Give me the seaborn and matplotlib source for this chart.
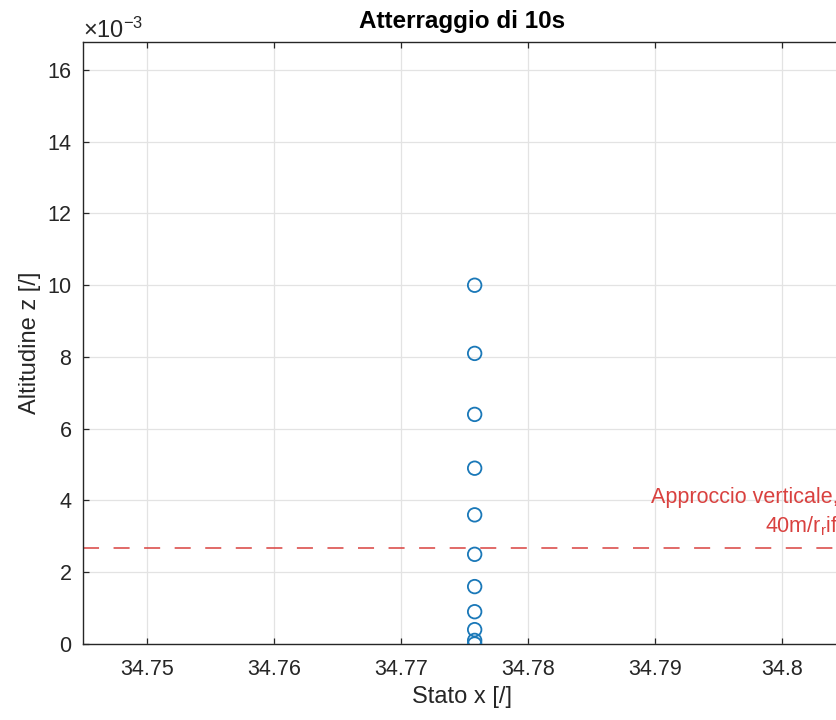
import numpy as np
import pandas as pd
import matplotlib
matplotlib.use("Agg")
import matplotlib.pyplot as plt
import matplotlib.ticker as mticker
import matplotlib.transforms as mtransforms
import seaborn as sns

# ---- data ----
x_state = [34.7758] * 11
z_alt = [10.0e-3, 8.1e-3, 6.4e-3, 4.9e-3, 3.6e-3, 2.5e-3, 1.6e-3, 0.9e-3, 0.4e-3, 0.1e-3, 0.0]
threshold = 40 / 15000
x_ticks = [34.75, 34.76, 34.77, 34.78, 34.79, 34.80]
x_tick_labels = ["34.75", "34.76", "34.77", "34.78", "34.79", "34.8"]
y_ticks = [0, 2e-3, 4e-3, 6e-3, 8e-3, 10e-3, 12e-3, 14e-3, 16e-3]
title = "Atterraggio di 10s"
xlabel = "Stato x [/]"
ylabel = "Altitudine z [/]"
line_label = "Approccio verticale,\n40m/r$_\\mathrm{r}$if"

df = pd.DataFrame({"x": x_state, "z": z_alt})

sns.set_theme(style="whitegrid")
plt.rcParams["font.family"] = ["Liberation Sans", "DejaVu Sans"]
plt.rcParams["mathtext.fontset"] = "custom"
plt.rcParams["mathtext.rm"] = "Liberation Sans"
plt.rcParams["mathtext.it"] = "Liberation Sans:italic"
plt.rcParams["mathtext.bf"] = "Liberation Sans:bold"

W, H = 837, 720
fig = plt.figure(figsize=(W / 100, H / 100), dpi=100)
fig.patch.set_facecolor("white")
ax_l, ax_r, ax_t, ax_b = 83, 842, 42, 644
ax = fig.add_axes([ax_l / W, (H - ax_b) / H, (ax_r - ax_l) / W, (ax_b - ax_t) / H])
ax.set_facecolor("white")

sns.scatterplot(data=df, x="x", y="z", ax=ax, marker="o", s=95,
                facecolors="none", edgecolor="#1a78b8", linewidth=1.3, zorder=3)

dark = "#262626"
ax.axhline(threshold, color="#D9413F", linewidth=1.1, linestyle=(0, (10.5, 9.5)), zorder=2)

px_per_unit = 127 / 0.01
x0 = 34.75 - (147 - ax_l) / px_per_unit
x1 = 34.75 + (ax_r - 147) / px_per_unit
ax.set_xlim(x0, x1)
ax.set_ylim(0, 16.78e-3)

ax.set_xticks(x_ticks)
ax.set_xticklabels(x_tick_labels)
ax.set_yticks(y_ticks)
fmt = mticker.ScalarFormatter(useMathText=True)
fmt.set_powerlimits((-3, -3))
ax.yaxis.set_major_formatter(fmt)

ax.grid(True, color="#e3e3e3", linewidth=0.9)
for side in ["left", "top", "bottom"]:
    ax.spines[side].set_visible(True)
    ax.spines[side].set_color(dark)
    ax.spines[side].set_linewidth(1.0)
ax.spines["right"].set_visible(False)

ax.tick_params(axis="both", direction="in", length=4, width=0.9, color=dark,
               labelcolor=dark, labelsize=15.5, top=True, bottom=True, left=True)
ax.tick_params(axis="x", pad=11)
ax.tick_params(axis="y", pad=8)
ax.yaxis.get_offset_text().set_fontsize(17)
ax.yaxis.get_offset_text().set_color(dark)

ax.set_title(title, fontsize=17.5, fontweight="bold", color="black", pad=10)
ax.set_xlabel(xlabel, fontsize=17, color=dark, labelpad=4)
ax.set_ylabel(ylabel, fontsize=17, color=dark, labelpad=4)

trans = mtransforms.blended_transform_factory(ax.transAxes, ax.transData)
ax.text(0.995, threshold + 0.3e-3, line_label, transform=trans, ha="right", va="bottom",
        color="#D9413F", fontsize=15.5, multialignment="right", linespacing=1.35)

fig.savefig("out.png", dpi=100, facecolor="white")
